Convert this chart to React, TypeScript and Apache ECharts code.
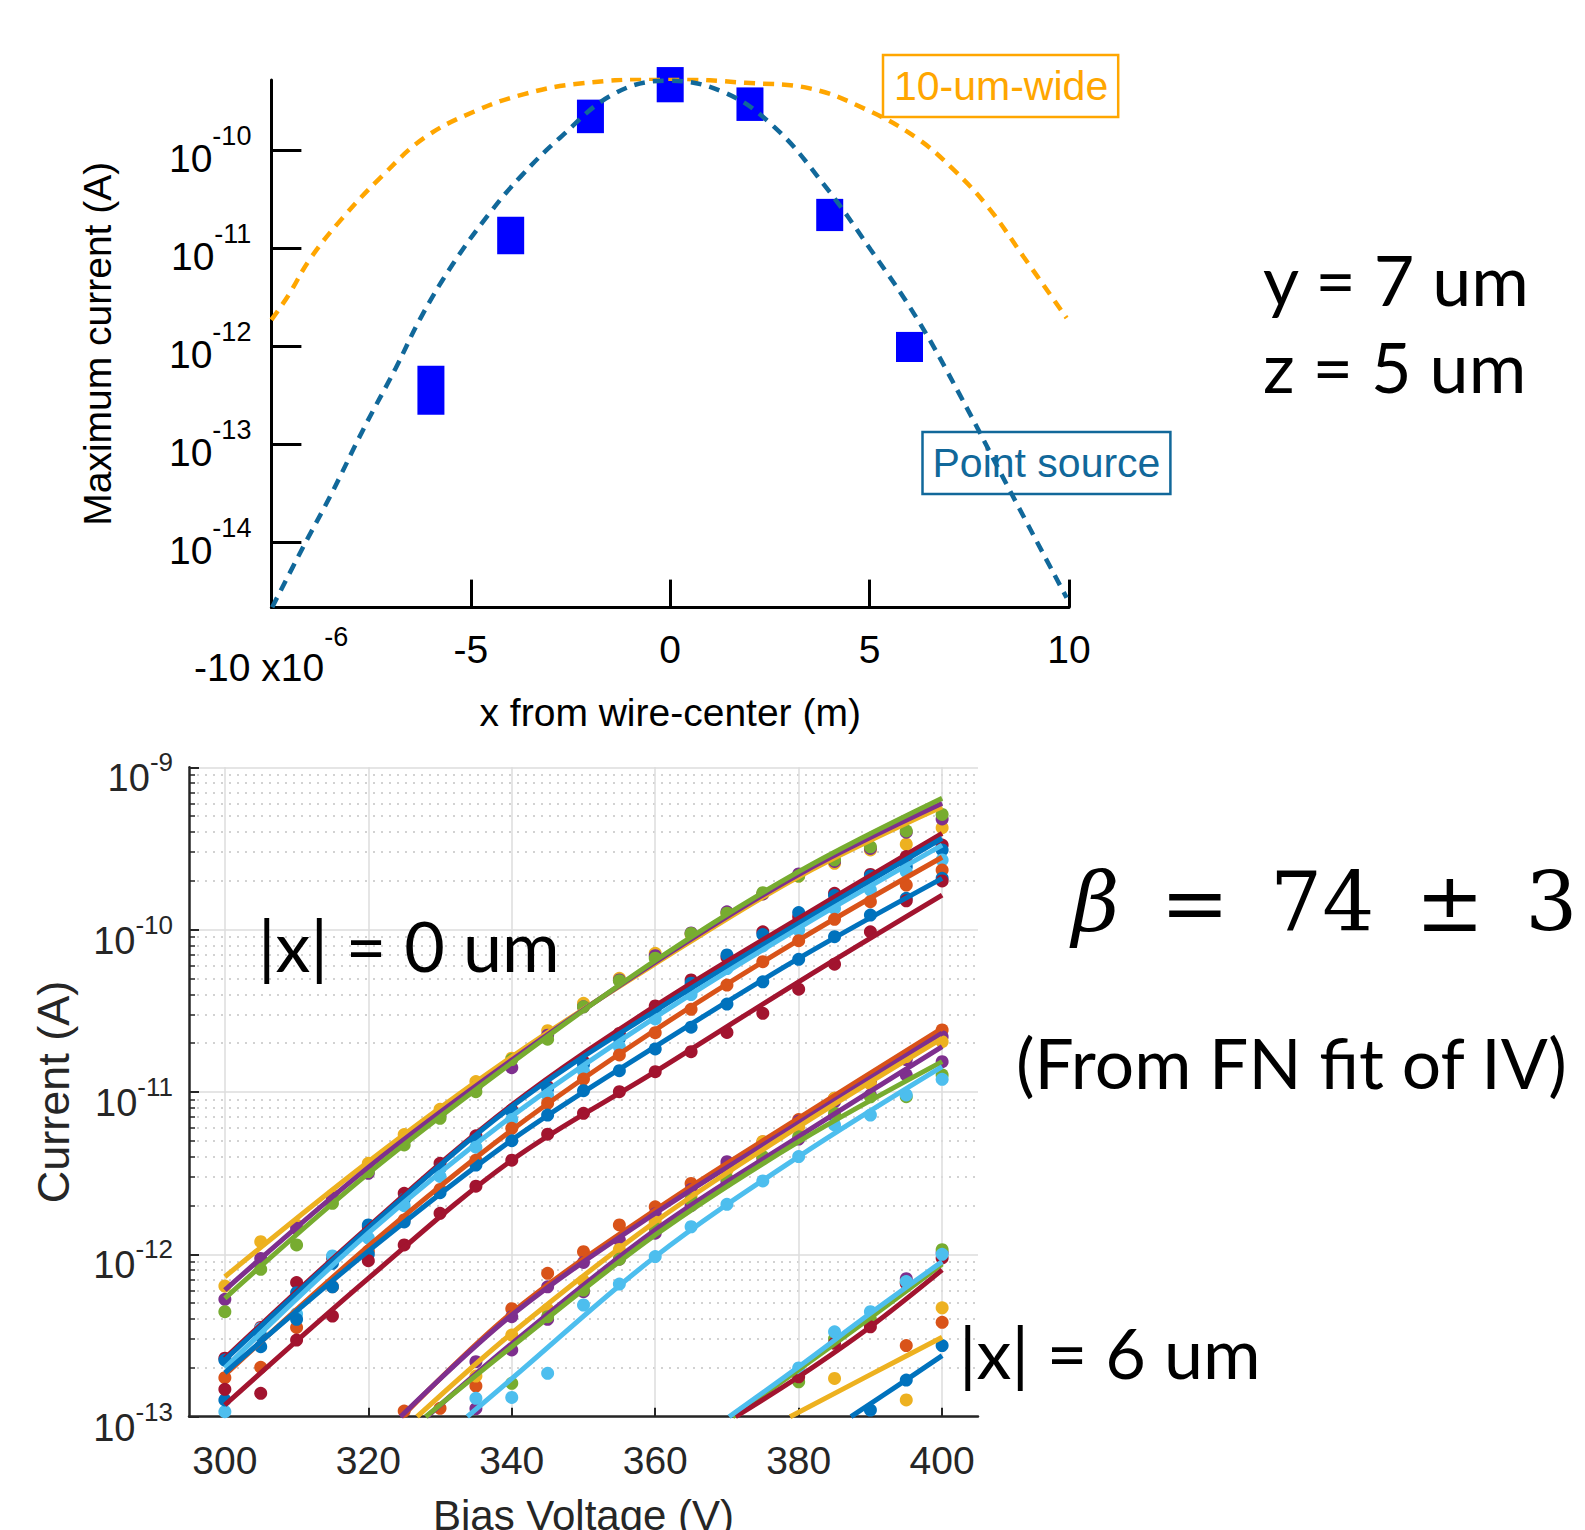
import React, { useEffect, useRef } from 'react';
import * as echarts from 'echarts';

// ================= TOP CHART DATA =================
const topXTicks = [-10, -5, 0, 5, 10];
const topYTicks = [1e-14, 1e-13, 1e-12, 1e-11, 1e-10];

// Point source model curve (x in um, current in A)
const pointSourceX = [-9.98, -9.21, -8.5, -7.69, -6.88, -6.26, -5.45, -4.56, -3.75, -2.77, -1.42, -0.085, 1.34, 2.6, 3.85, 5.02, 6.18, 7.26, 8.51, 9.94];
const pointSourceI = [2.16e-15, 8.8e-15, 3.08e-14, 1.43e-13, 6.0e-13, 1.94e-12, 6.9e-12, 2.2e-11, 5.4e-11, 1.34e-10, 3.76e-10, 5.15e-10, 3.94e-10, 1.75e-10, 4.5e-11, 9.8e-12, 1.94e-12, 3.2e-13, 3.4e-14, 2.7e-15];

// 10-um-wide model curve
const wideX = [-10, -9.57, -9.03, -8.23, -7.24, -6.17, -4.91, -3.66, -2.32, -0.085, 1.89, 3.5, 4.93, 6.18, 7.08, 7.97, 8.86, 9.94];
const wideI = [1.86e-12, 3.33e-12, 7.8e-12, 2.01e-11, 5.4e-11, 1.34e-10, 2.5e-10, 3.76e-10, 4.8e-10, 5.4e-10, 4.9e-10, 4.3e-10, 2.6e-10, 1.34e-10, 6.5e-11, 2.64e-11, 8.2e-12, 1.94e-12];

// Measured maximum current (range low..high)
const measX = [-6, -4, -2, 0, 2, 4, 6];
const measLo = [2.0e-13, 8.7e-12, 1.5e-10, 3.1e-10, 2.0e-10, 1.5e-11, 6.9e-13];
const measHi = [6.3e-13, 2.1e-11, 3.3e-10, 7.1e-10, 4.4e-10, 3.2e-11, 1.4e-12];

// ================= BOTTOM CHART DATA =================
const bottomXTicks = [300, 320, 340, 360, 380, 400];
const bottomYTicks = [1e-13, 1e-12, 1e-11, 1e-10, 1e-9];
const minorMantissas = [2, 3, 4, 5, 6, 7, 8, 9];
const minorDecades = [1e-13, 1e-12, 1e-11, 1e-10];

const biasV = [300, 305, 310, 315, 320, 325, 330, 335, 340, 345, 350, 355, 360, 365, 370, 375, 380, 385, 390, 395, 400];

// All current values below are log10(I / A)
// |x| = 0 um group
const dotsA_yellow = [-12.195, -11.922, -11.82, -11.635, -11.439, -11.262, -11.107, -10.936, -10.792, -10.622, -10.454, -10.3, -10.146, -10.03, -9.9, -9.78, -9.67, -9.591, -9.509, -9.474, -9.372];
const dotsA_purple = [-12.277, -12.025, -11.84, -11.655, -11.501, -11.3, -11.14, -10.97, -10.85, -10.65, -10.475, -10.31, -10.16, -10.02, -9.89, -9.78, -9.657, -9.58, -9.5, -9.4, -9.318];
const dotsA_green = [-12.353, -12.092, -11.942, -11.686, -11.49, -11.326, -11.162, -10.998, -10.8, -10.675, -10.475, -10.314, -10.176, -10.023, -9.899, -9.772, -9.67, -9.57, -9.49, -9.392, -9.29];
const fitA_yellow = [[300, -12.138], [320, -11.429], [340, -10.783], [360, -10.21], [380, -9.674], [400, -9.243]];
const fitA_purple = [[300, -12.22], [320, -11.464], [340, -10.803], [360, -10.2], [380, -9.66], [400, -9.222]];
const fitA_green = [[300, -12.271], [320, -11.501], [340, -10.82], [360, -10.19], [380, -9.643], [400, -9.191]];

// |x| = 2 um group
const dotsB_red1 = [-12.64, -12.45, -12.174, -12.02, -11.83, -11.624, -11.439, -11.27, -11.111, -10.967, -10.813, -10.639, -10.47, -10.31, -10.17, -10.013, -9.92, -9.776, -9.66, -9.55, -9.479];
const dotsB_blue1 = [-12.651, -12.5, -12.236, -12.055, -11.819, -11.66, -11.47, -11.29, -11.12, -10.98, -10.83, -10.67, -10.5, -10.33, -10.156, -10.03, -9.895, -9.79, -9.67, -9.612, -9.509];
const dotsB_lblue = [-12.969, -12.456, -12.367, -12.01, -11.9, -11.7, -11.52, -11.34, -11.17, -11.02, -10.87, -10.721, -10.55, -10.4, -10.24, -10.1, -10.002, -9.869, -9.756, -9.643, -9.571];
const dotsB_orange = [-12.76, -12.696, -12.45, -12.199, -11.98, -11.788, -11.6, -11.42, -11.224, -11.07, -10.92, -10.772, -10.635, -10.491, -10.341, -10.197, -10.068, -9.936, -9.828, -9.725, -9.633];
const dotsB_blue2 = [-12.897, -12.569, -12.4, -12.2, -12.0, -11.8, -11.62, -11.45, -11.3, -11.142, -10.992, -10.869, -10.735, -10.601, -10.458, -10.321, -10.183, -10.043, -9.91, -9.807, -9.684];
const dotsB_red2 = [-12.831, -12.856, -12.528, -12.38, -12.039, -11.942, -11.747, -11.58, -11.42, -11.26, -11.131, -10.998, -10.875, -10.752, -10.633, -10.515, -10.367, -10.213, -10.013, -9.822, -9.7];
const fitB_red1 = [[300, -12.64], [320, -11.83], [340, -11.08], [360, -10.47], [380, -9.93], [400, -9.407]];
const fitB_blue1 = [[300, -12.651], [320, -11.84], [340, -11.09], [360, -10.5], [380, -9.96], [400, -9.437]];
const fitB_lblue = [[300, -12.7], [320, -11.87], [340, -11.15], [360, -10.54], [380, -9.99], [400, -9.479]];
const fitB_orange = [[300, -12.743], [320, -11.95], [340, -11.234], [360, -10.618], [380, -10.064], [400, -9.554]];
const fitB_blue2 = [[300, -12.73], [320, -11.98], [340, -11.296], [360, -10.721], [380, -10.177], [400, -9.684]];
const fitB_red2 = [[300, -12.928], [320, -12.148], [340, -11.42], [360, -10.875], [380, -10.321], [400, -9.787]];

// |x| = 4 um group
const dotsC_orange = [null, null, null, null, null, -12.965, -12.948, -12.811, -12.335, -12.117, -11.984, -11.819, -11.707, -11.563, -11.45, -11.306, -11.17, -11.039, -10.93, -10.782, -10.618];
const dotsC_purple1 = [null, null, null, null, null, null, null, -12.661, -12.384, -12.2, -12.05, -11.912, -11.75, -11.6, -11.429, -11.32, -11.18, -11.06, -10.926, -10.8, -10.659];
const dotsC_yellow = [null, null, null, null, null, null, null, -12.75, -12.497, -12.339, -12.164, -11.97, -11.8, -11.64, -11.48, -11.306, -11.214, -11.039, -10.95, -10.782, -10.69];
const dotsC_purple2 = [null, null, null, null, null, null, null, -12.95, -12.589, -12.4, -12.23, -12.03, -11.87, -11.7, -11.55, -11.41, -11.29, -11.15, -11.02, -10.895, -10.813];
const dotsC_green = [null, null, null, null, null, null, null, null, -12.794, -12.384, -12.22, -12.03, -11.84, -11.665, -11.532, -11.398, -11.275, -11.131, -11.03, -11.029, -10.895];
const dotsC_lblue = [null, null, null, null, null, null, null, -12.887, -12.881, -12.733, -12.312, -12.183, -12.014, -11.83, -11.692, -11.548, -11.398, -11.203, -11.142, -11.018, -10.922];
const fitC_orange = [[324.7, -13], [340, -12.36], [360, -11.727], [380, -11.161], [400, -10.608]];
const fitC_purple1 = [[324.5, -13], [340, -12.374], [360, -11.747], [380, -11.19], [400, -10.638]];
const fitC_yellow = [[326.8, -13], [340, -12.486], [360, -11.799], [380, -11.214], [400, -10.67]];
const fitC_purple2 = [[328.2, -13], [340, -12.55], [360, -11.85], [380, -11.275], [400, -10.721]];
const fitC_green = [[328, -13], [340, -12.569], [360, -11.881], [380, -11.306], [400, -10.813]];
const fitC_lblue = [[333.8, -13], [340, -12.766], [360, -12.014], [380, -11.398], [400, -10.844]];

// |x| = 6 um group
const dotsD_lblue = [null, null, null, null, null, null, null, null, null, null, null, null, null, null, null, null, -12.7, -12.477, -12.353, -12.168, -12.0];
const dotsD_green = [null, null, null, null, null, null, null, null, null, null, null, null, null, null, null, null, -12.785, -12.52, -12.4, -12.17, -11.971];
const dotsD_red = [null, null, null, null, null, null, null, null, null, null, null, null, null, null, null, null, -12.754, -12.548, -12.446, -12.18, -12.022];
const dotsD_yellow = [null, null, null, null, null, null, null, null, null, null, null, null, null, null, null, null, null, -12.764, null, -12.897, -12.329];
const dotsD_blue = [null, null, null, null, null, null, null, null, null, null, null, null, null, null, null, null, null, null, -12.959, -12.774, -12.562];
const dotsD_orange = [null, null, null, null, null, null, null, null, null, null, null, null, null, null, null, null, null, null, null, -12.562, -12.419];
const dotsD_purple = [null, null, null, null, null, null, null, null, null, null, null, null, null, null, null, null, null, null, null, -12.15, -11.99];
const fitD_lblue = [[370.3, -13], [380, -12.692], [390, -12.363], [400, -12.045]];
const fitD_green = [[370.8, -13], [380, -12.71], [390, -12.39], [400, -12.06]];
const fitD_red = [[371.2, -13], [380, -12.754], [390, -12.446], [400, -12.096]];
const fitD_yellow = [[378.8, -13], [390, -12.741], [400, -12.511]];
const fitD_blue = [[387.3, -13], [395, -12.773], [400, -12.624]];

// ================= STYLE =================
const FONT = '"Liberation Sans", Arial, Helvetica, sans-serif';
const CAL = 'Lato, "Noto Sans", sans-serif';
const SERIF = '"DejaVu Serif", serif';
const ORANGE = '#FFA600';
const PSBLUE = '#11689A';
const MARK = '#0000FF';
const AX2 = '#262626';
const C = {
  blue: '#0072BD', orange: '#D95319', yellow: '#EDB120', purple: '#7E2F8E',
  green: '#77AC30', lblue: '#4DBEEE', red: '#A2142F',
};

type Grp = { color: string; dots: (number | null)[]; fit?: number[][] };
const groups: Grp[] = [
  { color: C.yellow, dots: dotsA_yellow, fit: fitA_yellow },
  { color: C.purple, dots: dotsA_purple, fit: fitA_purple },
  { color: C.green, dots: dotsA_green, fit: fitA_green },
  { color: C.red, dots: dotsB_red1, fit: fitB_red1 },
  { color: C.blue, dots: dotsB_blue1, fit: fitB_blue1 },
  { color: C.lblue, dots: dotsB_lblue, fit: fitB_lblue },
  { color: C.orange, dots: dotsB_orange, fit: fitB_orange },
  { color: C.blue, dots: dotsB_blue2, fit: fitB_blue2 },
  { color: C.red, dots: dotsB_red2, fit: fitB_red2 },
  { color: C.orange, dots: dotsC_orange, fit: fitC_orange },
  { color: C.purple, dots: dotsC_purple1, fit: fitC_purple1 },
  { color: C.yellow, dots: dotsC_yellow, fit: fitC_yellow },
  { color: C.purple, dots: dotsC_purple2, fit: fitC_purple2 },
  { color: C.green, dots: dotsC_green, fit: fitC_green },
  { color: C.lblue, dots: dotsC_lblue, fit: fitC_lblue },
  { color: C.blue, dots: dotsD_blue, fit: fitD_blue },
  { color: C.orange, dots: dotsD_orange },
  { color: C.yellow, dots: dotsD_yellow, fit: fitD_yellow },
  { color: C.purple, dots: dotsD_purple },
  { color: C.green, dots: dotsD_green, fit: fitD_green },
  { color: C.red, dots: dotsD_red, fit: fitD_red },
  { color: C.lblue, dots: dotsD_lblue, fit: fitD_lblue },
];

function pow10(l: number) {
  return Math.pow(10, l);
}

function buildOption() {
  const minorTicks: number[] = [];
  minorDecades.forEach((d) => minorMantissas.forEach((m) => minorTicks.push(m * d)));

  const bottomSeries: any[] = [];
  groups.forEach((g) => {
    bottomSeries.push({
      type: 'scatter',
      xAxisIndex: 1,
      yAxisIndex: 1,
      symbol: 'circle',
      symbolSize: 13,
      itemStyle: { color: g.color, opacity: 1 },
      silent: true,
      data: biasV
        .map((v, i) => (g.dots[i] == null ? null : [v, pow10(g.dots[i] as number)]))
        .filter((p) => p !== null),
    });
    if (g.fit) {
      bottomSeries.push({
        type: 'line',
        xAxisIndex: 1,
        yAxisIndex: 1,
        smooth: 0.35,
        showSymbol: false,
        symbol: 'none',
        silent: true,
        lineStyle: { color: g.color, width: 5 },
        data: g.fit.map(([v, l]) => [v, pow10(l)]),
      });
    }
  });

  const supFmt = (v: number) => `{s| }{b|10}{e|${Math.round(Math.log10(v))}}`;

  return {
    animation: false,
    backgroundColor: '#ffffff',
    textStyle: { fontFamily: FONT },
    grid: [
      { left: 271.4, top: 79.9, width: 797.6, height: 527.7, containLabel: false, outerBoundsMode: 'none' },
      { left: 189, top: 767.3, width: 789, height: 649.4, containLabel: false, outerBoundsMode: 'none' },
    ],
    xAxis: [
      {
        gridIndex: 0, type: 'value', min: -10, max: 10, interval: 5,
        axisLine: { show: true, onZero: false, lineStyle: { color: '#000', width: 3 } },
        axisTick: { show: true, inside: true, length: 28, lineStyle: { color: '#000', width: 3 } },
        axisLabel: {
          show: true, margin: 22, fontSize: 39, color: '#000', fontFamily: FONT,
          formatter: (v: number) => (v === -10 ? '' : String(v)),
        },
        splitLine: { show: false },
        name: 'x from wire-center (m)', nameLocation: 'middle', nameGap: 85,
        nameTextStyle: { fontSize: 39, color: '#000', fontFamily: FONT },
      },
      {
        gridIndex: 1, type: 'value', min: 295, max: 405,
        axisLine: { show: true, onZero: false, lineStyle: { color: AX2, width: 2.5 } },
        axisTick: { show: true, inside: true, length: 9, customValues: bottomXTicks, lineStyle: { color: AX2, width: 2 } },
        axisLabel: { show: true, customValues: bottomXTicks, margin: 24, fontSize: 39, color: AX2, fontFamily: FONT },
        splitLine: { show: true, lineStyle: { color: '#dcdcdc', width: 1.5 } },
        name: 'Bias Voltage (V)', nameLocation: 'middle', nameGap: 78,
        nameTextStyle: { fontSize: 42, color: AX2, fontFamily: FONT },
      },
    ],
    yAxis: [
      {
        gridIndex: 0, type: 'log', logBase: 10, min: 2.14e-15, max: 5.25e-10,
        axisLine: { show: true, onZero: false, lineStyle: { color: '#000', width: 3 } },
        axisTick: { show: true, inside: true, length: 30, customValues: topYTicks, lineStyle: { color: '#000', width: 3 } },
        axisLabel: {
          show: true, margin: 20, customValues: topYTicks, formatter: supFmt,
          rich: {
            s: { fontSize: 1, lineHeight: 56 },
            b: { fontSize: 39, lineHeight: 40, verticalAlign: 'bottom', color: '#000', fontFamily: FONT },
            e: { fontSize: 27, lineHeight: 26, verticalAlign: 'top', color: '#000', fontFamily: FONT },
          },
        },
        splitLine: { show: false },
        name: 'Maximum current (A)', nameLocation: 'middle', nameGap: 154,
        nameTextStyle: { fontSize: 39, color: '#000', fontFamily: FONT },
      },
      {
        gridIndex: 1, type: 'log', logBase: 10, min: 1e-13, max: 1e-9,
        axisLine: { show: true, onZero: false, lineStyle: { color: AX2, width: 2.5 } },
        axisTick: { show: true, inside: true, length: 10, customValues: bottomYTicks, lineStyle: { color: AX2, width: 2 } },
        axisLabel: {
          show: true, margin: 16, customValues: bottomYTicks, formatter: supFmt,
          rich: {
            s: { fontSize: 1, lineHeight: 60 },
            b: { fontSize: 38, lineHeight: 40, verticalAlign: 'bottom', color: AX2, fontFamily: FONT },
            e: { fontSize: 26, lineHeight: 26, verticalAlign: 'top', padding: [12, 0, 0, 0], color: AX2, fontFamily: FONT },
          },
        },
        splitLine: { show: true, lineStyle: { color: '#dcdcdc', width: 1.5 } },
        name: 'Current (A)', nameLocation: 'middle', nameGap: 113,
        nameTextStyle: { fontSize: 45, color: AX2, fontFamily: FONT },
      },
      {
        gridIndex: 1, type: 'log', logBase: 10, min: 1e-13, max: 1e-9, position: 'left',
        axisLine: { show: false, onZero: false },
        axisLabel: { show: false },
        axisTick: { show: true, inside: true, length: 6, customValues: minorTicks, lineStyle: { color: AX2, width: 1.5 } },
        splitLine: { show: true, lineStyle: { color: '#c4c4c4', width: 1.5, type: [2, 6] } },
      },
    ],
    series: [
      {
        type: 'line', xAxisIndex: 0, yAxisIndex: 0, smooth: 0.4, showSymbol: false, symbol: 'none', silent: true,
        lineStyle: { color: ORANGE, width: 4.5, type: [11, 8] },
        data: wideX.map((x, i) => [x, wideI[i]]),
      },
      {
        type: 'line', xAxisIndex: 0, yAxisIndex: 0, smooth: 0.4, showSymbol: false, symbol: 'none', silent: true,
        lineStyle: { color: PSBLUE, width: 4.5, type: [11, 8] },
        data: pointSourceX.map((x, i) => [x, pointSourceI[i]]),
      },
      {
        type: 'custom', xAxisIndex: 0, yAxisIndex: 0, coordinateSystem: 'cartesian2d', silent: true, clip: false,
        encode: { x: 0, y: [1, 2] },
        data: measX.map((x, i) => [x, measLo[i], measHi[i]]),
        renderItem: (params: any, api: any) => {
          const top = api.coord([api.value(0), api.value(2)]);
          const bot = api.coord([api.value(0), api.value(1)]);
          return {
            type: 'rect',
            shape: { x: top[0] - 13.5, y: top[1], width: 27, height: bot[1] - top[1] },
            style: { fill: MARK },
          };
        },
      },
      ...bottomSeries,
    ],
    graphic: [
      {
        type: 'text', x: 271, y: 655, z: 10,
        style: {
          text: '{s| }{a|-10 x10}{e|-6}', align: 'center', verticalAlign: 'middle',
          rich: {
            s: { fontSize: 1, lineHeight: 64 },
            a: { fontSize: 39, lineHeight: 40, verticalAlign: 'bottom', fill: '#000', fontFamily: FONT },
            e: { fontSize: 27, lineHeight: 34, verticalAlign: 'top', fill: '#000', fontFamily: FONT },
          },
        },
      },
      {
        type: 'text', x: 883, y: 55, z: 10,
        style: {
          text: '10-um-wide', font: `41px ${FONT}`, fill: ORANGE, align: 'left', verticalAlign: 'top',
          lineHeight: 46, padding: [8, 10, 8, 11], borderColor: ORANGE, borderWidth: 2.5,
        },
      },
      {
        type: 'text', x: 922.5, y: 432, z: 10,
        style: {
          text: 'Point source', font: `41px ${FONT}`, fill: PSBLUE, align: 'left', verticalAlign: 'top',
          lineHeight: 46, padding: [8, 10, 8, 10], borderColor: PSBLUE, borderWidth: 2.5,
        },
      },
      {
        type: 'text', x: 1263, y: 279, z: 10,
        style: { text: 'y = 7 um', font: `70px ${CAL}`, fill: '#000', align: 'left', verticalAlign: 'middle' },
      },
      {
        type: 'text', x: 1263, y: 366, z: 10,
        style: { text: 'z = 5 um', font: `70px ${CAL}`, fill: '#000', align: 'left', verticalAlign: 'middle' },
      },
      {
        type: 'text', x: 258, y: 945, z: 10,
        style: { text: '|x| = 0 um', font: `70px ${CAL}`, fill: '#000', align: 'left', verticalAlign: 'middle' },
      },
      {
        type: 'text', x: 959, y: 1352, z: 10,
        style: { text: '|x| = 6 um', font: `70px ${CAL}`, fill: '#000', align: 'left', verticalAlign: 'middle' },
      },
      {
        type: 'text', x: 1072, y: 902, z: 10,
        style: {
          text: '{g|β}{n|\u2002=\u200274\u2002±\u20023}', align: 'left', verticalAlign: 'middle',
          rich: {
            g: { fontSize: 82, fontStyle: 'italic', fontFamily: SERIF, fill: '#000' },
            n: { fontSize: 82, fontFamily: SERIF, fill: '#000' },
          },
        },
      },
      {
        type: 'text', x: 1016, y: 1062, z: 10,
        style: { text: '(From FN fit of IV)', font: `69.5px ${CAL}`, fill: '#000', align: 'left', verticalAlign: 'middle' },
      },
    ],
  };
}

export default function App() {
  const ref = useRef<HTMLDivElement>(null);
  useEffect(() => {
    if (!ref.current) return;
    const chart = echarts.init(ref.current, undefined, { renderer: 'svg' });
    chart.setOption(buildOption() as any);
    return () => {
      chart.dispose();
    };
  }, []);
  return (
    <div
      ref={ref}
      style={{ position: 'absolute', left: 0, top: 0, width: 1585, height: 1530, background: '#ffffff' }}
    />
  );
}
